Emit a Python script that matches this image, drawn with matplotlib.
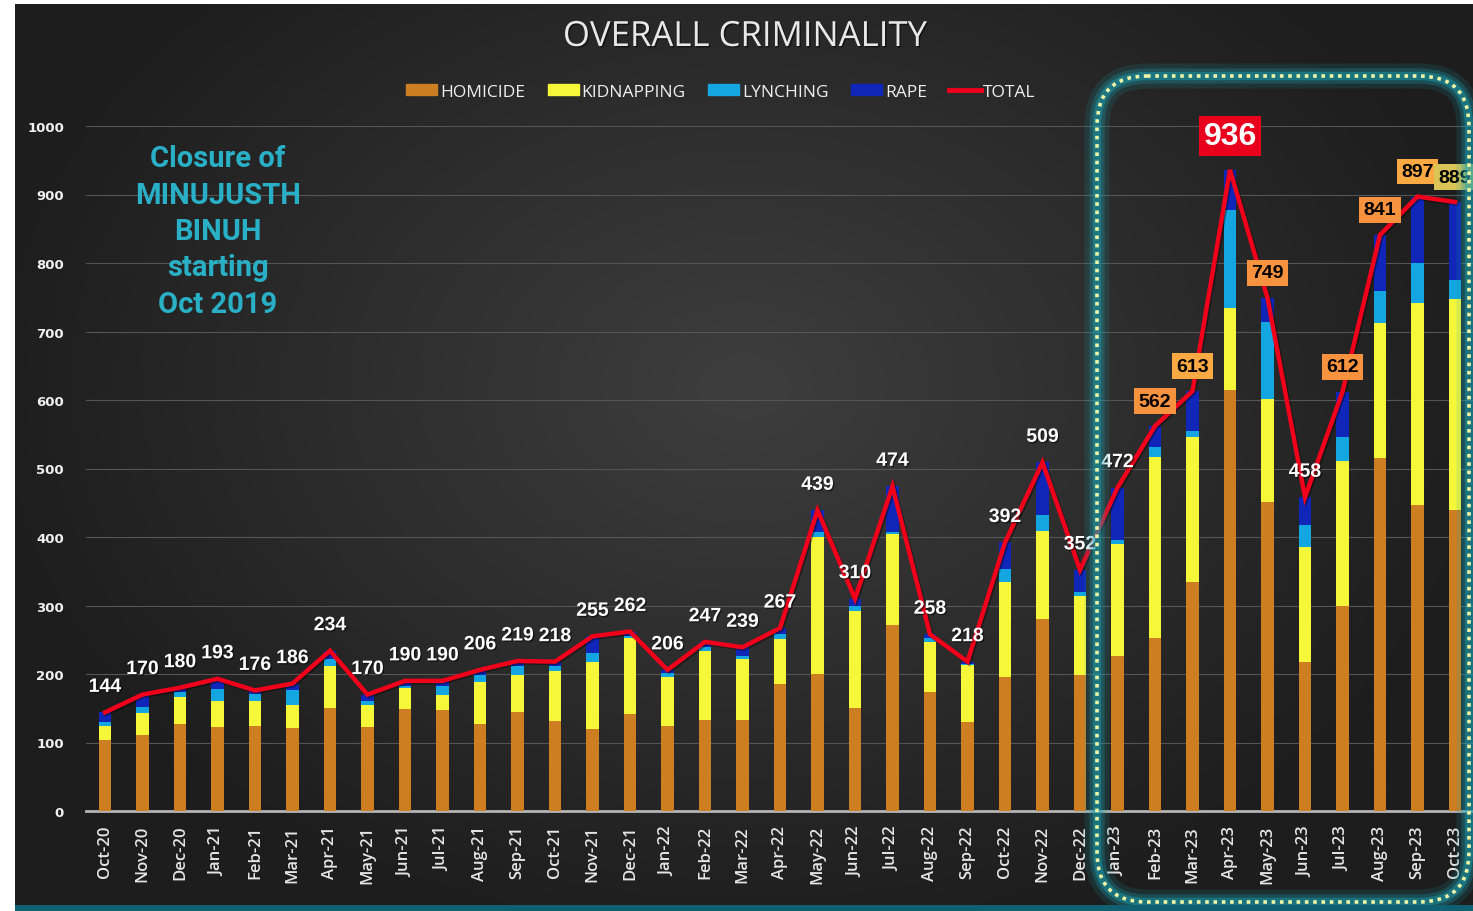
import numpy as np
import matplotlib
matplotlib.use('Agg')
import matplotlib.pyplot as plt
from matplotlib.patches import FancyBboxPatch, Rectangle, Patch
from matplotlib.lines import Line2D
import matplotlib.patheffects as pe

# ---------------- data ----------------
months = ['Oct-20', 'Nov-20', 'Dec-20',
          'Jan-21', 'Feb-21', 'Mar-21', 'Apr-21', 'May-21', 'Jun-21', 'Jul-21', 'Aug-21', 'Sep-21', 'Oct-21', 'Nov-21', 'Dec-21',
          'Jan-22', 'Feb-22', 'Mar-22', 'Apr-22', 'May-22', 'Jun-22', 'Jul-22', 'Aug-22', 'Sep-22', 'Oct-22', 'Nov-22', 'Dec-22',
          'Jan-23', 'Feb-23', 'Mar-23', 'Apr-23', 'May-23', 'Jun-23', 'Jul-23', 'Aug-23', 'Sep-23', 'Oct-23']
homicide = [104, 111, 127, 123, 124, 121, 150, 123, 149, 147, 127, 144, 132, 120, 141,
            124, 133, 133, 186, 200, 151, 272, 173, 130, 195, 280, 198,
            227, 253, 335, 614, 451, 217, 299, 516, 447, 440]
kidnapping = [20, 32, 39, 38, 36, 34, 61, 32, 31, 23, 61, 54, 72, 98, 112,
              71, 101, 89, 65, 200, 141, 132, 73, 83, 139, 129, 116,
              163, 264, 211, 120, 150, 169, 212, 197, 295, 308]
lynching = [6, 9, 7, 17, 11, 21, 11, 6, 2, 13, 10, 13, 8, 13, 3,
            6, 6, 5, 7, 7, 8, 4, 7, 1, 19, 23, 6,
            6, 14, 9, 143, 113, 32, 35, 46, 58, 27]
rape = [14, 18, 7, 15, 5, 10, 12, 9, 8, 7, 8, 8, 6, 24, 6,
        5, 7, 12, 9, 32, 10, 66, 5, 4, 39, 77, 32,
        76, 31, 58, 59, 35, 40, 66, 82, 97, 114]
total = [144, 170, 180, 193, 176, 186, 234, 170, 190, 190, 206, 219, 218, 255, 262,
         206, 247, 239, 267, 439, 310, 474, 258, 218, 392, 509, 352,
         472, 562, 613, 936, 749, 458, 612, 841, 897, 889]
series_names = ['HOMICIDE', 'KIDNAPPING', 'LYNCHING', 'RAPE', 'TOTAL']
y_ticks = [0, 100, 200, 300, 400, 500, 600, 700, 800, 900, 1000]
note_text = "Closure of\nMINUJUSTH\nBINUH\nstarting\nOct 2019"
title_text = "OVERALL CRIMINALITY"

# ---------------- styles ----------------
C_HOM = '#cc7e20'
C_KID = '#f7f73a'
C_LYN = '#13a6e0'
C_RAP = '#0f26b8'
C_TOT = '#f0001a'
NARROW = ['Liberation Sans Narrow', 'Liberation Sans', 'DejaVu Sans']
box_styles = {'Feb-23': ('#f7923e', 'black'), 'Mar-23': ('#fba943', 'black'),
              'Apr-23': ('#e8001c', 'white'), 'May-23': ('#f7923e', 'black'),
              'Jul-23': ('#f7923e', 'black'), 'Aug-23': ('#f7923e', 'black'),
              'Sep-23': ('#fba943', 'black'), 'Oct-23': ('#d9c455', 'black')}

W, H = 1473, 912
fig = plt.figure(figsize=(W / 100, H / 100), dpi=100, facecolor='white')

# background panel with radial gradient
bg = fig.add_axes([15 / W, 6 / H, (W - 15) / W, (906 - 5) / H])
bg.set_axis_off()
gx = np.linspace(-1, 1, 400)
gy = np.linspace(-1, 1, 300)
X, Y = np.meshgrid(gx, gy)
R = np.sqrt((X * 0.95) ** 2 + ((Y + 0.15) * 0.8) ** 2)
R = np.clip(R, 0, 1)
c0 = np.array([0x3e, 0x3e, 0x3e]) / 255
c1 = np.array([0x1d, 0x1d, 0x1d]) / 255
img = c0[None, None, :] * (1 - R[..., None]) + c1[None, None, :] * R[..., None]
bg.imshow(img, aspect='auto', extent=[0, 1, 0, 1], origin='upper', interpolation='bilinear')
fig.patches.append(Rectangle((15 / W, 0), (W - 15) / W, 6 / H, transform=fig.transFigure,
                             facecolor='#0f6070', edgecolor='none', zorder=1))

# main axes
ax = fig.add_axes([86.25 / W, (H - 812) / H, 1387.5 / W, 685 / H])
ax.set_facecolor('none')
x = np.arange(len(months))
bw = 0.33
hom = np.array(homicide)
kid = np.array(kidnapping)
lyn = np.array(lynching)
rap = np.array(rape)
ax.bar(x, hom, bw, color=C_HOM, zorder=3)
ax.bar(x, kid, bw, bottom=hom, color=C_KID, zorder=3)
ax.bar(x, lyn, bw, bottom=hom + kid, color=C_LYN, zorder=3)
ax.bar(x, rap, bw, bottom=hom + kid + lyn, color=C_RAP, zorder=3)
ax.plot(x, total, color=C_TOT, lw=3.2, zorder=5, solid_joinstyle='miter',
        path_effects=[pe.SimpleLineShadow(offset=(1, -1), shadow_color='black', alpha=0.4), pe.Normal()])

ax.set_xlim(-0.5, len(months) - 0.5)
ax.set_ylim(0, 1000)
ax.set_yticks(y_ticks)
ax.set_yticklabels([str(v) for v in y_ticks], color='#f0f0f0', fontsize=9.5, fontweight='bold',
                   family=['DejaVu Sans'])
ax.set_xticks(x)
ax.set_xticklabels(months, rotation=90, color='#e6e6e6', fontsize=12, fontweight='semibold',
                   family=['Open Sans', 'DejaVu Sans'])
ax.tick_params(axis='y', length=0, pad=16)
ax.tick_params(axis='x', length=0, pad=10)
ax.grid(axis='y', color='#555555', lw=0.8, zorder=0)
for s in ['top', 'right', 'left']:
    ax.spines[s].set_visible(False)
ax.spines['bottom'].set_color('#b5b5b5')
ax.spines['bottom'].set_linewidth(2)

# data labels
for i, (m, t) in enumerate(zip(months, total)):
    if m in box_styles:
        fc, tc = box_styles[m]
        if m == 'Apr-23':
            ax.annotate(str(t), (i, t), xytext=(0, 34), textcoords='offset pixels',
                        ha='center', va='center', fontsize=23, fontweight='bold', color=tc,
                        family=NARROW, zorder=7, annotation_clip=False,
                        bbox=dict(boxstyle='square,pad=0.15', fc=fc, ec='none'))
        else:
            ax.annotate(str(t), (i, t), xytext=(0, 25), textcoords='offset pixels',
                        ha='center', va='center', fontsize=14, fontweight='bold', color=tc,
                        family=NARROW, zorder=7, annotation_clip=False,
                        bbox=dict(boxstyle='square,pad=0.22', fc=fc, ec='none'))
    else:
        ax.annotate(str(t), (i, t), xytext=(0, 25), textcoords='offset pixels',
                    ha='center', va='center', fontsize=14, fontweight='bold', color='white',
                    family=NARROW, zorder=7, annotation_clip=False,
                    path_effects=[pe.withSimplePatchShadow(offset=(1, -1), shadow_rgbFace='black', alpha=0.5)])

# title
fig.text(745 / W, 1 - 38 / H, title_text, ha='center', va='center', fontsize=25,
         color='#e8e8e8', family=['Open Sans', 'DejaVu Sans'],
         path_effects=[pe.withSimplePatchShadow(offset=(1, -1), shadow_rgbFace='black', alpha=0.5)])

# legend
handles = [Patch(color=C_HOM), Patch(color=C_KID), Patch(color=C_LYN), Patch(color=C_RAP),
           Line2D([0], [0], color=C_TOT, lw=3.5)]
leg = fig.legend(handles, series_names, loc='center', bbox_to_anchor=(721 / W, 1 - 93 / H), ncol=5,
                 frameon=False, labelcolor='#f0f0f0', handlelength=1.8, handleheight=0.6,
                 handletextpad=0.15, columnspacing=1.3,
                 prop={'family': ['Open Sans', 'DejaVu Sans'], 'size': 12.5, 'weight': 'medium'})

# note
fig.text(218 / W, 1 - 232 / H, note_text, ha='center', va='center', fontsize=21, fontweight='bold',
         color='#29b0c6', family=['Roboto', 'DejaVu Sans'], linespacing=1.38)

# highlight box overlay
ov = fig.add_axes([0, 0, 1, 1])
ov.set_xlim(0, W)
ov.set_ylim(H, 0)
ov.set_axis_off()
ov.patch.set_alpha(0)
for lw, a in [(18, 0.15), (11, 0.28), (6, 0.45)]:
    ov.add_patch(FancyBboxPatch((1097, 77), 372, 826, boxstyle='round,pad=0,rounding_size=50',
                                fc='none', ec='#1aa0b0', lw=lw, alpha=a, clip_on=False))
ov.add_patch(FancyBboxPatch((1097, 77), 372, 826, boxstyle='round,pad=0,rounding_size=50',
                            fc='none', ec='#eef5a8', lw=2.6, linestyle=(0, (1, 1.3)), clip_on=False))

fig.savefig('out.png', dpi=100, facecolor='white')
